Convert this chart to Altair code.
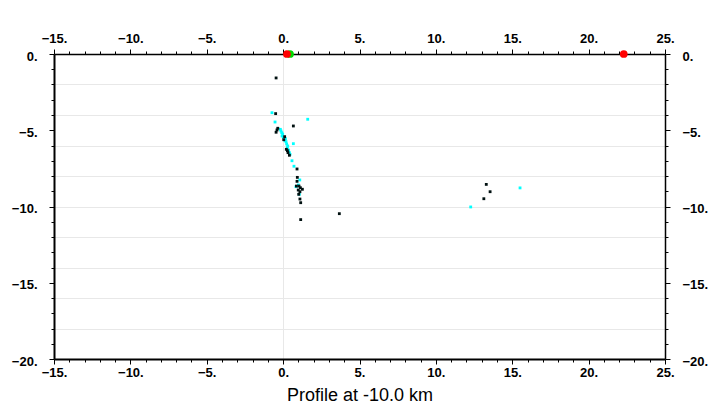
import altair as alt
import pandas as pd

# --- data ---
black_x = [-0.46, -0.49, 0.67, -0.35, -0.40, -0.46, 0.10, 0.04, 0.21, 0.28, 0.32, 0.41,
           0.91, 0.93, 0.91, 0.87, 1.04, 1.13, 1.26, 0.99, 1.10, 1.02, 1.10, 1.15,
           3.68, 1.15, 13.30, 13.55, 13.14]
black_y = [-1.57, -3.91, -4.72, -4.87, -4.98, -5.13, -5.42, -5.62, -6.25, -6.34, -6.47, -6.64,
           -7.54, -8.09, -8.35, -8.66, -8.66, -8.77, -8.87, -8.92, -9.03, -9.20, -9.51, -9.75,
           -10.47, -10.86, -8.55, -9.03, -9.49]

cyan_x = [-0.73, 1.61, -0.53, -0.18, -0.14, -0.09, -0.03, -0.07, 0.02, 0.15, 0.12, 0.19,
          0.23, 0.30, 0.28, 0.36, 0.41, 0.45, 0.67, 0.58, 0.71, 1.09, 1.00, 0.84, 1.06,
          15.51, 12.28]
cyan_y = [-3.85, -4.28, -4.46, -4.94, -5.05, -5.16, -5.25, -5.38, -5.46, -5.55, -5.68, -5.75,
          -5.90, -6.03, -6.14, -6.30, -6.47, -6.58, -5.88, -7.00, -7.36, -8.26, -8.59, -8.70, -9.20,
          -8.78, -10.03]

red_x = [0.25, 22.3]
red_y = [0.0, 0.0]
green_x = [0.45]
green_y = [0.0]

x_ticks = list(range(-15, 26))
y_ticks = list(range(-20, 1))
axis_title = "Profile at -10.0 km"

black_df = pd.DataFrame({"x": black_x, "y": black_y})
cyan_df = pd.DataFrame({"x": cyan_x, "y": cyan_y})
red_df = pd.DataFrame({"x": red_x, "y": red_y})
green_df = pd.DataFrame({"x": green_x, "y": green_y})

x_scale = alt.Scale(domain=[-15, 25], nice=False, zero=False)
y_scale = alt.Scale(domain=[-20, 0], nice=False, zero=False)

tick_cond = {"condition": {"test": "datum.value % 5 === 0", "value": 5}, "value": 3}
label_expr = "datum.value % 5 === 0 ? (datum.value === 0 ? '0' : format(datum.value, 'd')) + '.' : ''"

base_axis = dict(
    labelFont="Liberation Sans", labelFontWeight="bold", labelFontSize=13,
    labelColor="black", domainColor="black", tickColor="black", tickWidth=1,
    labelFlush=False, labelOverlap=False, labelBound=False, labelExpr=label_expr,
    tickSize=tick_cond,
)

x_bottom = alt.Axis(orient="bottom", values=x_ticks, domainWidth=2, labelPadding=2,
                    title=axis_title, titleFont="Liberation Sans", titleFontSize=18,
                    titleFontWeight="normal", titleColor="black", titlePadding=7,
                    grid=True, gridColor="#e8e8e8",
                    gridOpacity={"condition": {"test": "datum.value === 0", "value": 1}, "value": 0},
                    **base_axis)
y_left = alt.Axis(orient="left", values=y_ticks, domainWidth=2, labelPadding=12, labelOffset=2,
                  title=None, grid=True, gridColor="#e8e8e8",
                  gridOpacity={"condition": {"test": "datum.value % 2 === 0", "value": 1}, "value": 0},
                  **base_axis)
x_top = alt.Axis(orient="top", values=x_ticks, domainWidth=1.5, labelPadding=4,
                 title=None, grid=False, **base_axis)
y_right = alt.Axis(orient="right", values=y_ticks, domainWidth=1.5, labelPadding=12, labelOffset=2,
                   title=None, grid=False, **base_axis)

green = alt.Chart(green_df).mark_circle(size=60, color="#00dd00", opacity=1).encode(
    x=alt.X("x:Q", scale=x_scale, axis=None),
    y=alt.Y("y:Q", scale=y_scale, axis=None),
)
cyan = alt.Chart(cyan_df).mark_square(size=8, color="#00ffff", opacity=1).encode(
    x=alt.X("x:Q", scale=x_scale, axis=None),
    y=alt.Y("y:Q", scale=y_scale, axis=None),
)
black = alt.Chart(black_df).mark_square(size=8, color="#001010", opacity=1).encode(
    x=alt.X("x:Q", scale=x_scale, axis=x_bottom),
    y=alt.Y("y:Q", scale=y_scale, axis=y_left),
)
red = alt.Chart(red_df).mark_circle(size=60, color="#ff0000", opacity=1).encode(
    x=alt.X("x:Q", scale=x_scale, axis=x_top),
    y=alt.Y("y:Q", scale=y_scale, axis=y_right),
)

chart = alt.layer(green, cyan, black, red).resolve_axis(
    x="independent", y="independent"
).properties(
    width=611, height=305,
    autosize=alt.AutoSizeParams(type="none"),
    padding={"left": 54, "top": 54, "right": 55, "bottom": 55},
    background="white",
).configure_view(stroke=None)

chart.save("out.html", embed_options={"renderer": "svg", "actions": False})
